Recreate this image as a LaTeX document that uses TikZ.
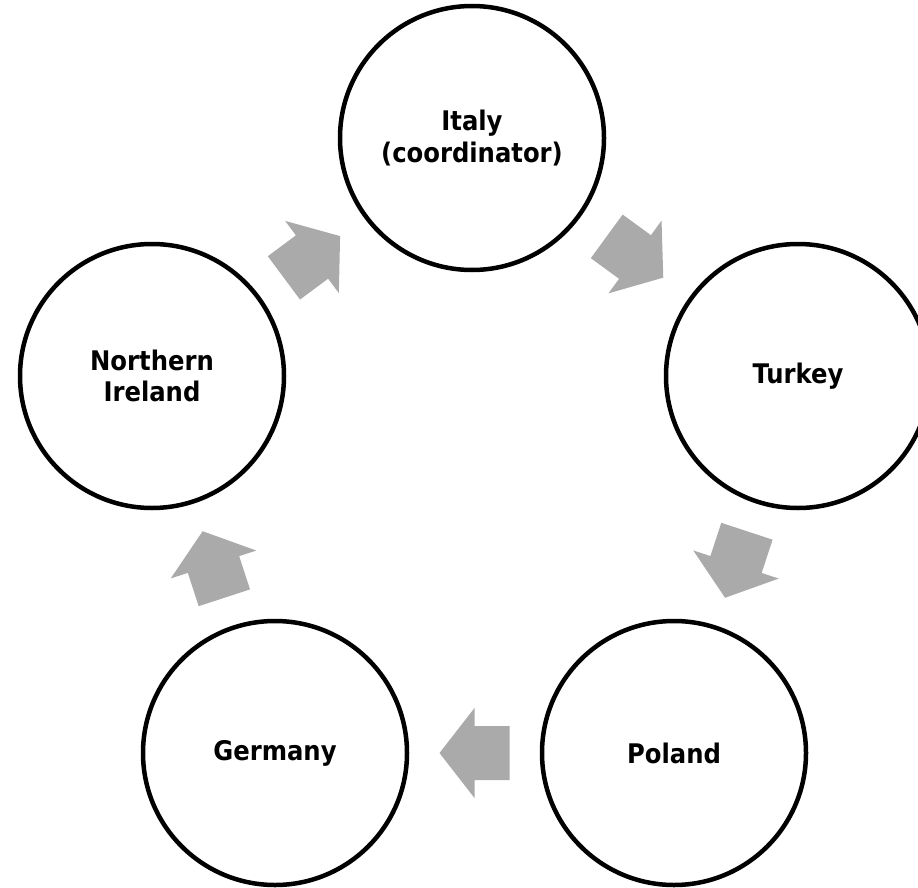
\documentclass[tikz,border=0pt]{standalone}
\usepackage{fontspec}
\newfontfamily\lblfont{DejaVu Sans Condensed}
\usetikzlibrary{calc}
\definecolor{arrowgray}{RGB}{170,170,170}
\tikzset{
  country/.style={circle, draw=black, line width=4.5pt, fill=white,
    minimum size=264pt, inner sep=0pt, align=center,
    font=\lblfont\bfseries\fontsize{27}{31.5}\selectfont},
  cyclearrow/.style={fill=arrowgray},
}
% block arrow centred between two named nodes, pointing from #1 to #2
\newcommand\blockarrow[2]{%
  \coordinate (m) at ($(#1)!0.5!(#2)$);
  \coordinate (t) at ($(m)!35pt!(#2)$);
  \coordinate (k) at ($(m)!-35pt!(#2)$);
  \fill[cyclearrow] ($(k)!27pt!90:(#2)$) -- ($(m)!27pt!90:(#2)$)
    -- ($(m)!45pt!90:(#2)$) -- (t) -- ($(m)!45pt!-90:(#2)$)
    -- ($(m)!27pt!-90:(#2)$) -- ($(k)!27pt!-90:(#2)$) -- cycle;
}
\begin{document}
\begin{tikzpicture}[x=1pt,y=-1pt]
\clip (0,0) rectangle (918,888);
\fill[white] (0,0) rectangle (918,888);
\node[country] (italy) at (472,138) {Italy\\(coordinator)};
\node[country] (turkey) at (798,376) {Turkey};
\node[country] (poland) at (674,753) {Poland};
\node[country] (germany) at (275,753) {Germany};
\node[country] (ireland) at (152,376) {Northern\\Ireland};
\blockarrow{italy}{turkey}
\blockarrow{turkey}{poland}
\blockarrow{poland}{germany}
\blockarrow{germany}{ireland}
\blockarrow{ireland}{italy}
\end{tikzpicture}
\end{document}
